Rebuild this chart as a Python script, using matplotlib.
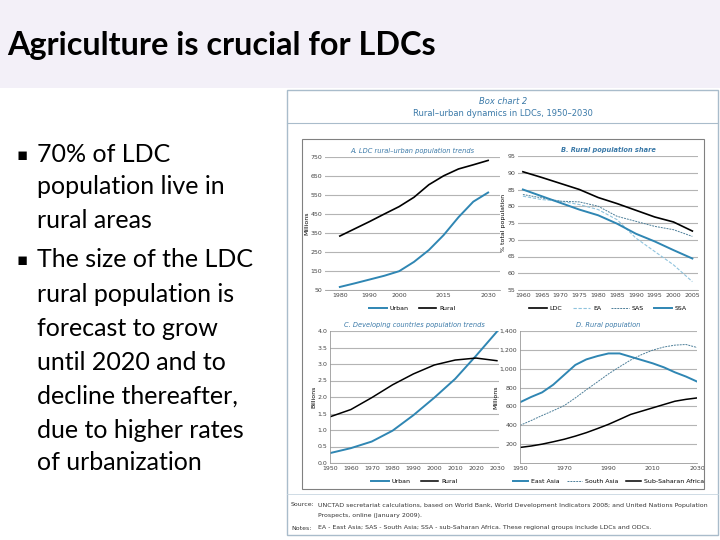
import matplotlib
matplotlib.use("Agg")
import matplotlib.pyplot as plt
from matplotlib.patches import Rectangle

# ---- data ----
a_years = [1980, 1985, 1990, 1995, 2000, 2005, 2010, 2015, 2020, 2025, 2030]
a_urban = [66, 85, 105, 125, 149, 198, 260, 339, 433, 515, 563]
a_rural = [334, 372, 410, 450, 489, 538, 604, 651, 687, 709, 732]

b_years = [1960, 1965, 1970, 1975, 1980, 1985, 1990, 1995, 2000, 2005]
b_ldc = [90.3, 88.6, 86.8, 85.0, 82.6, 80.8, 78.8, 76.8, 75.3, 72.6]
b_ea = [83.0, 82.0, 81.5, 80.5, 79.0, 76.0, 70.5, 66.5, 62.5, 57.5]
b_sas = [83.5, 82.5, 81.5, 81.3, 80.0, 77.0, 75.5, 74.0, 73.0, 71.0]
b_ssa = [85.0, 83.0, 81.0, 79.0, 77.3, 74.8, 71.8, 69.5, 66.9, 64.4]

c_years = [1950, 1960, 1970, 1980, 1990, 2000, 2010, 2020, 2030]
c_urban = [0.30, 0.45, 0.65, 0.98, 1.45, 1.98, 2.55, 3.25, 3.98]
c_rural = [1.40, 1.62, 1.98, 2.37, 2.70, 2.97, 3.12, 3.18, 3.10]

d_years = [1950, 1955, 1960, 1965, 1970, 1975, 1980, 1985, 1990, 1995,
           2000, 2005, 2010, 2015, 2020, 2025, 2030]
d_east = [644, 700, 749, 830, 935, 1040, 1099, 1134, 1162, 1162,
          1127, 1092, 1057, 1015, 962, 917, 864]
d_south = [399, 450, 504, 555, 609, 690, 777, 860, 945, 1020,
           1092, 1150, 1197, 1230, 1250, 1257, 1225]
d_ssa = [165, 180, 200, 225, 252, 285, 322, 365, 410, 462,
         515, 550, 585, 620, 655, 675, 690]

bullets = [
    ("\u25aa", "70% of LDC"),
    ("", "population live in"),
    ("", "rural areas"),
    ("\u25aa", "The size of the LDC"),
    ("", "rural population is"),
    ("", "forecast to grow"),
    ("", "until 2020 and to"),
    ("", "decline thereafter,"),
    ("", "due to higher rates"),
    ("", "of urbanization"),
]
bullet_y = [155, 187, 221, 260, 294, 328, 362, 396, 430, 463]

W, H = 720, 540
BLUE = "#2f86b3"
LIGHT = "#8fc3dd"
HEAD = "#3a79a8"
GRID = "#b4b4b4"
SMALL = 4.5

fig = plt.figure(figsize=(7.2, 5.4), dpi=100)
fig.patch.set_facecolor("white")


def fx(px):
    return px / W


def fy(py):
    return 1 - py / H


def box(x0, y0, x1, y1, z=-5, **kw):
    r = Rectangle((fx(x0), fy(y1)), fx(x1 - x0), (y1 - y0) / H,
                  transform=fig.transFigure, zorder=z, **kw)
    fig.add_artist(r)


# title band
box(0, 0, 720, 88, facecolor="#f3f0f8", edgecolor="none")
fig.text(fx(7), fy(46), "Agriculture is crucial for LDCs", fontsize=23.3,
         fontweight="bold", family="Lato", va="center", ha="left")

for (mark, line), y in zip(bullets, bullet_y):
    if mark:
        fig.text(fx(17), fy(y), mark, fontsize=12, family="DejaVu Sans",
                 va="center", ha="left")
    fig.text(fx(37), fy(y), line, fontsize=18, family="Lato",
             va="center", ha="left")

# embedded figure frame
box(287, 90, 718, 535, facecolor="white", edgecolor="#a9bccb", linewidth=1)
fig.add_artist(plt.Line2D([fx(287), fx(718)], [fy(123), fy(123)],
                          transform=fig.transFigure, color="#a9bccb", lw=0.8))
box(302, 139, 704, 489, z=3, facecolor="none", edgecolor="#808080", linewidth=0.8)
fig.add_artist(plt.Line2D([fx(287), fx(718)], [fy(494), fy(494)],
                          transform=fig.transFigure, color="#c8d6e0", lw=0.6))
fig.text(fx(503), fy(101), "Box chart 2", fontsize=6, style="italic",
         color=HEAD, ha="center", va="center")
fig.text(fx(503), fy(114), "Rural\u2013urban dynamics in LDCs, 1950\u20132030",
         fontsize=6, color=HEAD, ha="center", va="center")

src = [
    (505, "Source:", "UNCTAD secretariat calculations, based on World Bank, World Development Indicators 2008; and United Nations Population"),
    (516, "", "Prospects, online (January 2009)."),
    (528, "Notes:", "EA - East Asia; SAS - South Asia; SSA - sub-Saharan Africa. These regional groups include LDCs and ODCs."),
]
for y, lab, txt in src:
    if lab:
        fig.text(fx(291), fy(y), lab, fontsize=SMALL, color="#333333", va="center")
    fig.text(fx(318), fy(y), txt, fontsize=SMALL, color="#333333", va="center")


def panel(l, t, r, b):
    ax = fig.add_axes([fx(l), fy(b), fx(r - l), (b - t) / H])
    ax.set_facecolor("none")
    for s in ["top", "right"]:
        ax.spines[s].set_visible(False)
    ax.spines["left"].set_color("#999999")
    ax.spines["bottom"].set_color("#999999")
    ax.spines["left"].set_linewidth(0.6)
    ax.spines["bottom"].set_linewidth(0.6)
    ax.tick_params(labelsize=SMALL, length=0, pad=2, colors="#444444")
    ax.yaxis.grid(True, color=GRID, lw=0.8)
    ax.set_axisbelow(True)
    return ax


def ptitle(ax, txt):
    ax.set_title(txt, fontsize=4.8, style="italic", color=HEAD, pad=3)


def plegend(ax, handles_y, hl=2.8, cs=1.6):
    ax.legend(loc="upper center", bbox_to_anchor=(0.5, handles_y), ncol=4,
              frameon=False, fontsize=SMALL, handlelength=hl, columnspacing=cs,
              handletextpad=0.5, borderaxespad=0, borderpad=0)


# A
ax = panel(325, 157, 500, 290)
ax.plot(a_years, a_urban, color=BLUE, lw=1.4, label="Urban")
ax.plot(a_years, a_rural, color="black", lw=1.2, label="Rural")
ax.set_xlim(1975, 2034)
ax.set_ylim(50, 750)
ax.set_yticks(range(50, 751, 100))
ax.set_xticks([1980, 1990, 2000, 2015, 2030])
ax.set_ylabel("Millions", fontsize=SMALL, labelpad=1)
ax.spines["left"].set_visible(False)
ptitle(ax, "A. LDC rural\u2013urban population trends")
plegend(ax, -0.12)

# B
ax = panel(518, 156, 698, 290)
ax.plot(b_years, b_ldc, color="black", lw=1.2, label="LDC")
ax.plot(b_years, b_ea, color=LIGHT, lw=0.8, ls=(0, (3, 1.5)), label="EA")
ax.plot(b_years, b_sas, color="#4d7f99", lw=0.7, ls=(0, (2, 1)), label="SAS")
ax.plot(b_years, b_ssa, color=BLUE, lw=1.4, label="SSA")
ax.set_xlim(1958.7, 2006.5)
ax.set_ylim(55, 95)
ax.set_yticks(range(55, 96, 5))
ax.set_xticks(b_years)
ax.set_ylabel("% total population", fontsize=SMALL, labelpad=1)
ax.spines["left"].set_visible(False)
ptitle(ax, "B. Rural population share")
ax.title.set_fontweight("bold")
plegend(ax, -0.12)

# C
ax = panel(330, 331, 499, 463)
ax.plot(c_years, c_urban, color=BLUE, lw=1.4, label="Urban")
ax.plot(c_years, c_rural, color="black", lw=1.1, label="Rural")
ax.set_xlim(1950, 2031)
ax.set_ylim(0, 4.0)
ax.set_yticks([i * 0.5 for i in range(9)])
ax.set_yticklabels([f"{i * 0.5:.1f}" for i in range(9)])
ax.set_xticks(c_years)
ax.set_ylabel("Billions", fontsize=SMALL, labelpad=1)
ptitle(ax, "C. Developing countries population trends")
plegend(ax, -0.12)

# D
ax = panel(520, 331, 697, 463)
ax.plot(d_years, d_east, color=BLUE, lw=1.4, label="East Asia")
ax.plot(d_years, d_south, color="#4d7f99", lw=0.7, ls=(0, (2, 1)), label="South Asia")
ax.plot(d_years, d_ssa, color="black", lw=1.1, label="Sub-Saharan Africa")
ax.set_xlim(1950, 2030)
ax.set_ylim(0, 1400)
ax.set_yticks(range(200, 1401, 200))
ax.set_yticklabels([f"{v:,}" for v in range(200, 1401, 200)])
ax.set_xticks([1950, 1970, 1990, 2010, 2030])
ax.set_ylabel("Millions", fontsize=SMALL, labelpad=1)
ptitle(ax, "D. Rural population")
plegend(ax, -0.12, hl=2.4, cs=1.2)

fig.savefig("out.png", dpi=100)
